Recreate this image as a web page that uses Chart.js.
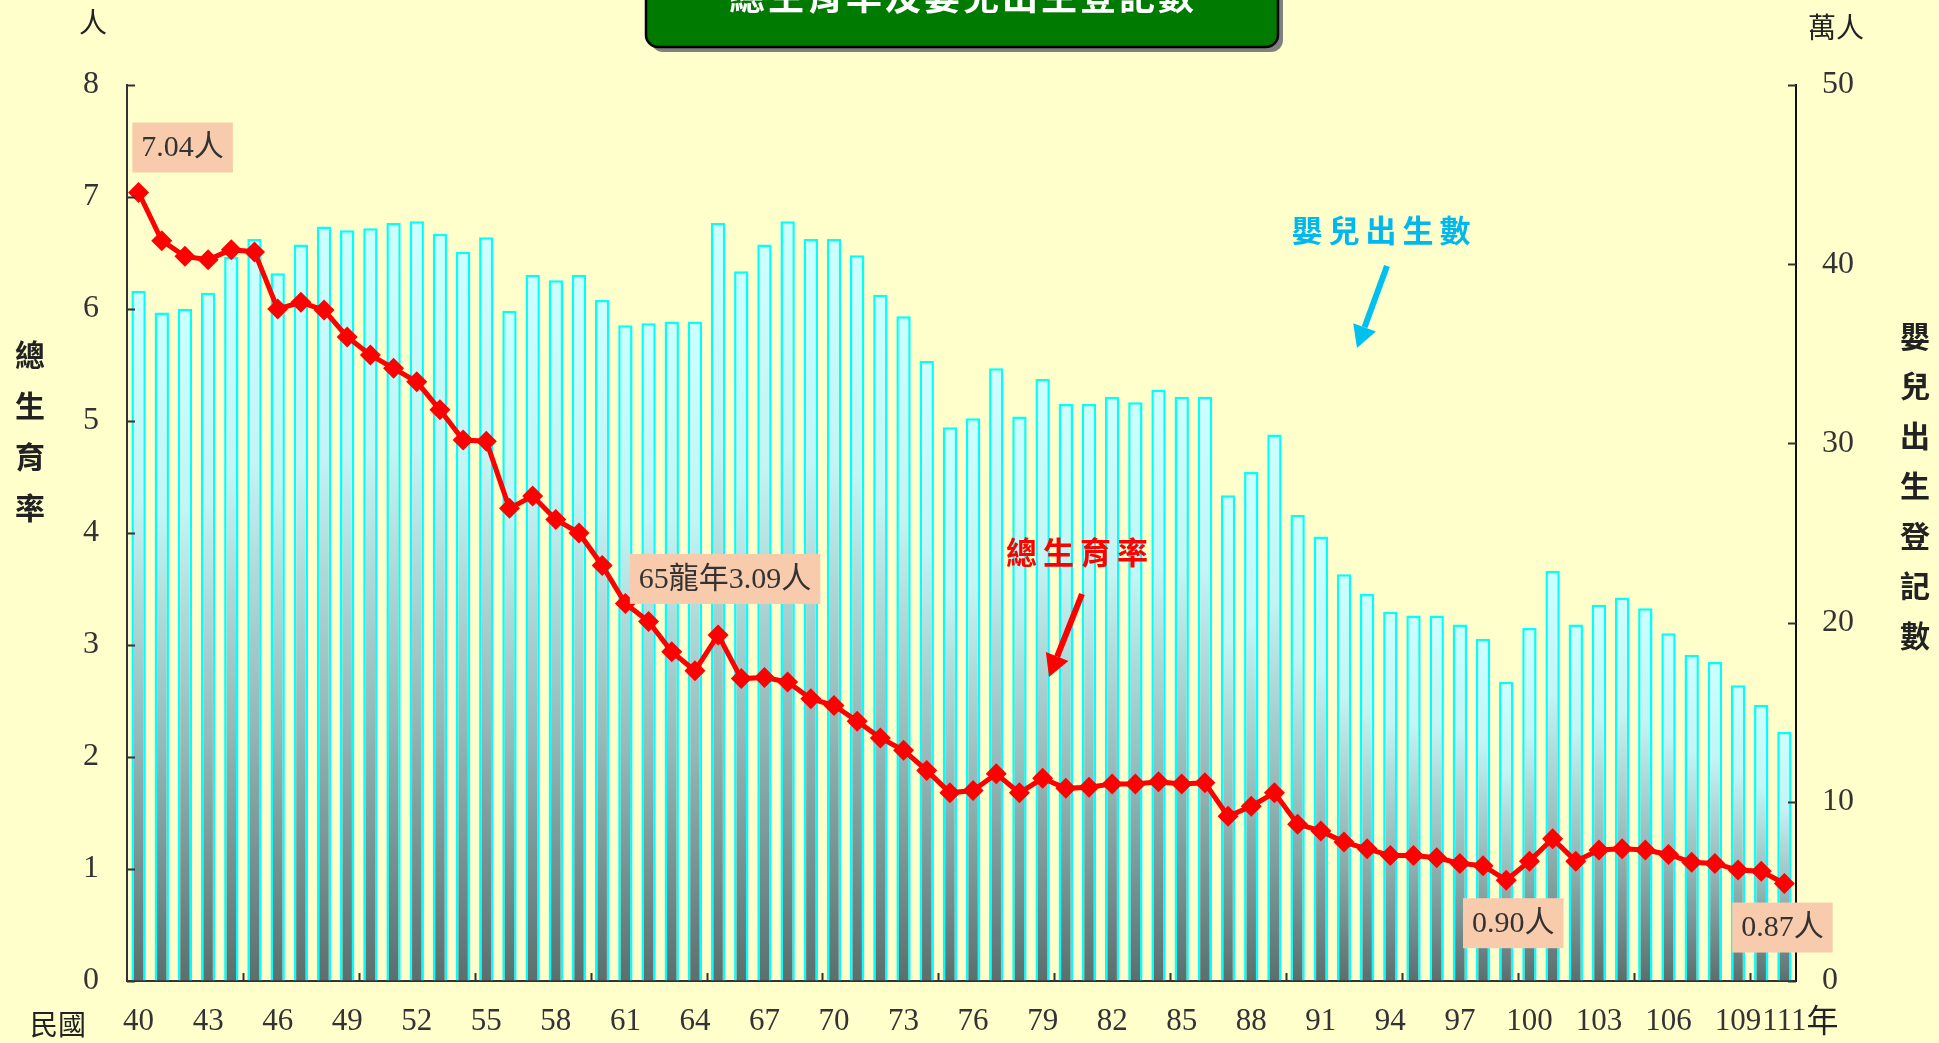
<!DOCTYPE html>
<html lang="zh-Hant">
<head>
  <meta charset="UTF-8" />
  <title>總生育率及嬰兒出生登記數</title>
  <script src="https://cdn.jsdelivr.net/npm/chart.js"></script>
  <style>
    body, html {
      margin: 0;
      padding: 0;
      background: #FFFFCC;
      overflow: hidden;
    }
  </style>
</head>
<body>
  <canvas id="tfrChart" width="1939" height="1043"></canvas>

  <script>
    // 民國年
    const years = ['40','41','42','43','44','45','46','47','48','49',
                   '50','51','52','53','54','55','56','57','58','59',
                   '60','61','62','63','64','65','66','67','68','69',
                   '70','71','72','73','74','75','76','77','78','79',
                   '80','81','82','83','84','85','86','87','88','89',
                   '90','91','92','93','94','95','96','97','98','99',
                   '100','101','102','103','104','105','106','107','108','109',
                   '110','111'];

    // 嬰兒出生登記數 (萬人)
    const births = [38.5, 37.3, 37.5, 38.4, 40.4, 41.4, 39.5, 41.1, 42.1, 41.9,
                    42.0, 42.3, 42.4, 41.7, 40.7, 41.5, 37.4, 39.4, 39.1, 39.4,
                    38.0, 36.6, 36.7, 36.8, 36.8, 42.3, 39.6, 41.1, 42.4, 41.4,
                    41.4, 40.5, 38.3, 37.1, 34.6, 30.9, 31.4, 34.2, 31.5, 33.6,
                    32.2, 32.2, 32.6, 32.3, 33.0, 32.6, 32.6, 27.1, 28.4, 30.5,
                    26.0, 24.8, 22.7, 21.6, 20.6, 20.4, 20.4, 19.9, 19.1, 16.7,
                    19.7, 22.9, 19.9, 21.0, 21.4, 20.8, 19.4, 18.2, 17.8, 16.5,
                    15.4, 13.9];

    // 總生育率 (人)
    const tfr = [7.04, 6.61, 6.47, 6.44, 6.53, 6.51, 6.00, 6.06, 5.99, 5.75,
                 5.59, 5.47, 5.35, 5.10, 4.83, 4.82, 4.22, 4.33, 4.12, 4.00,
                 3.71, 3.37, 3.21, 2.94, 2.77, 3.09, 2.70, 2.71, 2.67, 2.52,
                 2.46, 2.32, 2.17, 2.06, 1.88, 1.68, 1.70, 1.85, 1.68, 1.81,
                 1.72, 1.73, 1.76, 1.76, 1.78, 1.76, 1.77, 1.47, 1.56, 1.68,
                 1.40, 1.34, 1.24, 1.18, 1.12, 1.12, 1.10, 1.05, 1.03, 0.90,
                 1.07, 1.27, 1.07, 1.17, 1.18, 1.17, 1.13, 1.06, 1.05, 0.99,
                 0.98, 0.87];

    const tfrTicks = [0, 1, 2, 3, 4, 5, 6, 7, 8];
    const birthTicks = [0, 10, 20, 30, 40, 50];

    // 標註: [年份索引, 文字, 位置]
    const notes = [
      [0, '7.04人', 'above'],
      [25, '65龍年3.09人', 'above'],
      [59, '0.90人', 'below'],
      [71, '0.87人', 'below']
    ];

    const serif = "'Liberation Serif', 'Noto Sans CJK TC'";
    const cjk = "'Noto Sans CJK TC', 'Noto Sans CJK JP'";

    function barGradient(context) {
      const chart = context.chart;
      if (!chart.chartArea || context.raw == null) return '#CCFFFF';
      const s = chart.scales.yBirth;
      const top = s.getPixelForValue(context.raw);
      const bottom = s.getPixelForValue(0);
      const g = chart.ctx.createLinearGradient(0, top, 0, bottom);
      g.addColorStop(0, '#CCFFFF');
      g.addColorStop(0.3, '#C4F4F4');
      g.addColorStop(0.65, '#95B8B8');
      g.addColorStop(1, '#5C6E6E');
      return g;
    }

    function arrow(ctx, x1, y1, x2, y2, color, w, head) {
      const ang = Math.atan2(y2 - y1, x2 - x1);
      const bx = x2 - Math.cos(ang) * head;
      const by = y2 - Math.sin(ang) * head;
      ctx.save();
      ctx.strokeStyle = color;
      ctx.fillStyle = color;
      ctx.lineWidth = w;
      ctx.beginPath();
      ctx.moveTo(x1, y1);
      ctx.lineTo(bx, by);
      ctx.stroke();
      ctx.beginPath();
      ctx.moveTo(x2, y2);
      ctx.lineTo(bx + Math.cos(ang + Math.PI / 2) * head * 0.55, by + Math.sin(ang + Math.PI / 2) * head * 0.55);
      ctx.lineTo(bx + Math.cos(ang - Math.PI / 2) * head * 0.55, by + Math.sin(ang - Math.PI / 2) * head * 0.55);
      ctx.closePath();
      ctx.fill();
      ctx.restore();
    }

    function vertText(ctx, text, x, y0, step) {
      [...text].forEach((ch, i) => ctx.fillText(ch, x, y0 + i * step));
    }

    const decor = {
      id: 'decor',
      beforeDraw(chart) {
        const ctx = chart.ctx;
        ctx.save();
        ctx.fillStyle = '#FFFFCC';
        ctx.fillRect(0, 0, chart.width, chart.height);
        ctx.restore();
      },
      afterDatasetsDraw(chart) {
        const ctx = chart.ctx;
        const x = chart.scales.x, yL = chart.scales.yTfr, yR = chart.scales.yBirth;
        const area = chart.chartArea;

        // inside tick marks
        ctx.save();
        ctx.strokeStyle = '#333';
        ctx.lineWidth = 2;
        ctx.beginPath();
        tfrTicks.forEach(v => {
          const py = Math.round(yL.getPixelForValue(v)) + 0.5;
          ctx.moveTo(area.left, py); ctx.lineTo(area.left + 8, py);
        });
        birthTicks.forEach(v => {
          const py = Math.round(yR.getPixelForValue(v)) + 0.5;
          ctx.moveTo(area.right, py); ctx.lineTo(area.right - 8, py);
        });
        for (let i = 5; i < years.length; i += 5) {
          const px = Math.round((x.getPixelForValue(i - 1) + x.getPixelForValue(i)) / 2) + 0.5;
          ctx.moveTo(px, area.bottom); ctx.lineTo(px, area.bottom - 8);
        }
        ctx.stroke();
        ctx.restore();

        // value boxes
        ctx.save();
        ctx.font = '30px ' + serif;
        ctx.textAlign = 'center';
        ctx.textBaseline = 'middle';
        notes.forEach(([i, label, where]) => {
          const px = x.getPixelForValue(i);
          const py = yL.getPixelForValue(tfr[i]);
          const w = ctx.measureText(label).width + 18;
          const h = 50;
          let cx, cy;
          if (i === 0) { cx = px + 44; cy = py - 45; }
          else if (where === 'above') { cx = px + 7; cy = py - 56; }
          else if (i === years.length - 1) { cx = px - 2; cy = py + 44; }
          else { cx = px + 7; cy = py + 43; }
          ctx.fillStyle = '#F8CBAD';
          ctx.fillRect(cx - w / 2, cy - h / 2, w, h);
          ctx.fillStyle = '#333';
          ctx.fillText(label, cx, cy + 1);
        });
        ctx.restore();

        // series labels + arrows
        ctx.save();
        ctx.textAlign = 'center';
        ctx.textBaseline = 'middle';
        ctx.font = 'bold 31px ' + cjk;
        ctx.letterSpacing = '6px';
        ctx.fillStyle = '#00B8F0';
        ctx.fillText('嬰兒出生數', 1384, 230);
        ctx.fillStyle = '#FF0000';
        ctx.fillText('總生育率', 1080, 552);
        ctx.restore();
        arrow(ctx, 1387, 266, 1357, 348, '#00C0F0', 6, 22);
        arrow(ctx, 1082, 594, 1049, 677, '#FF0000', 6, 22);
      },
      afterDraw(chart) {
        const ctx = chart.ctx;
        ctx.save();
        // title box
        ctx.fillStyle = '#808080';
        ctx.beginPath();
        ctx.roundRect(651, -20, 632, 72, 12);
        ctx.fill();
        ctx.fillStyle = '#007A00';
        ctx.strokeStyle = '#000';
        ctx.lineWidth = 2.5;
        ctx.beginPath();
        ctx.roundRect(646, -25, 632, 72, 12);
        ctx.fill();
        ctx.stroke();
        ctx.fillStyle = '#FFFFFF';
        ctx.font = 'bold 36px ' + cjk;
        ctx.letterSpacing = '3px';
        ctx.textAlign = 'center';
        ctx.textBaseline = 'middle';
        ctx.fillText('總生育率及嬰兒出生登記數', 963, -4);
        ctx.letterSpacing = '0px';

        // units and axis titles
        ctx.fillStyle = '#222';
        ctx.font = '28px ' + cjk;
        ctx.fillText('人', 93, 22);
        ctx.fillText('萬人', 1836, 27);
        ctx.fillText('民國', 58, 1024);
        const last = chart.scales.x.getPixelForValue(years.length - 1);
        ctx.font = '32px ' + serif;
        ctx.textAlign = 'left';
        ctx.fillText('年', last + 22, 1024);
        ctx.textAlign = 'center';
        ctx.font = 'bold 30px ' + cjk;
        vertText(ctx, '總生育率', 30, 355, 51);
        vertText(ctx, '嬰兒出生登記數', 1915, 336, 50);
        ctx.restore();
      }
    };

    const ctx = document.getElementById('tfrChart').getContext('2d');

    const chart = new Chart(ctx, {
      data: {
        labels: years,
        datasets: [
          {
            type: 'line',
            label: '總生育率',
            data: tfr,
            yAxisID: 'yTfr',
            borderColor: '#FF0000',
            backgroundColor: '#FF0000',
            borderWidth: 5,
            pointStyle: 'rectRot',
            pointRadius: 10.5,
            pointBorderWidth: 0,
            tension: 0,
            order: 0
          },
          {
            type: 'bar',
            label: '嬰兒出生數',
            data: births,
            yAxisID: 'yBirth',
            backgroundColor: barGradient,
            borderColor: '#00FFFF',
            borderWidth: 2.5,
            barPercentage: 0.62,
            categoryPercentage: 1.0,
            order: 1
          }
        ]
      },
      options: {
        responsive: false,
        animation: false,
        layout: { padding: { top: 85, left: 0, right: 0, bottom: 0 } },
        plugins: {
          legend: { display: false },
          tooltip: { enabled: false }
        },
        scales: {
          x: {
            grid: { display: true, drawOnChartArea: false, drawTicks: false },
            border: { color: '#333', width: 2 },
            afterFit: s => { s.height = 62; },
            ticks: {
              autoSkip: false,
              maxRotation: 0,
              padding: 22,
              color: '#333',
              font: { family: serif, size: 31 },
              callback: (v, i) => (i % 3 === 0 || i === years.length - 1) ? years[i] : ''
            }
          },
          yTfr: {
            position: 'left',
            min: 0,
            max: 8,
            grid: { display: true, drawOnChartArea: false, drawTicks: false },
            border: { color: '#333', width: 2 },
            afterFit: s => { s.width = 127; },
            afterBuildTicks: s => { s.ticks = tfrTicks.map(v => ({ value: v })); },
            ticks: {
              padding: 28,
              color: '#333',
              font: { family: serif, size: 32 }
            }
          },
          yBirth: {
            position: 'right',
            min: 0,
            max: 50,
            grid: { display: true, drawOnChartArea: false, drawTicks: false },
            border: { color: '#111', width: 2 },
            afterFit: s => { s.width = 143; },
            afterBuildTicks: s => { s.ticks = birthTicks.map(v => ({ value: v })); },
            ticks: {
              padding: 26,
              color: '#333',
              font: { family: serif, size: 32 }
            }
          }
        }
      },
      plugins: [decor]
    });
  </script>
</body>
</html>
